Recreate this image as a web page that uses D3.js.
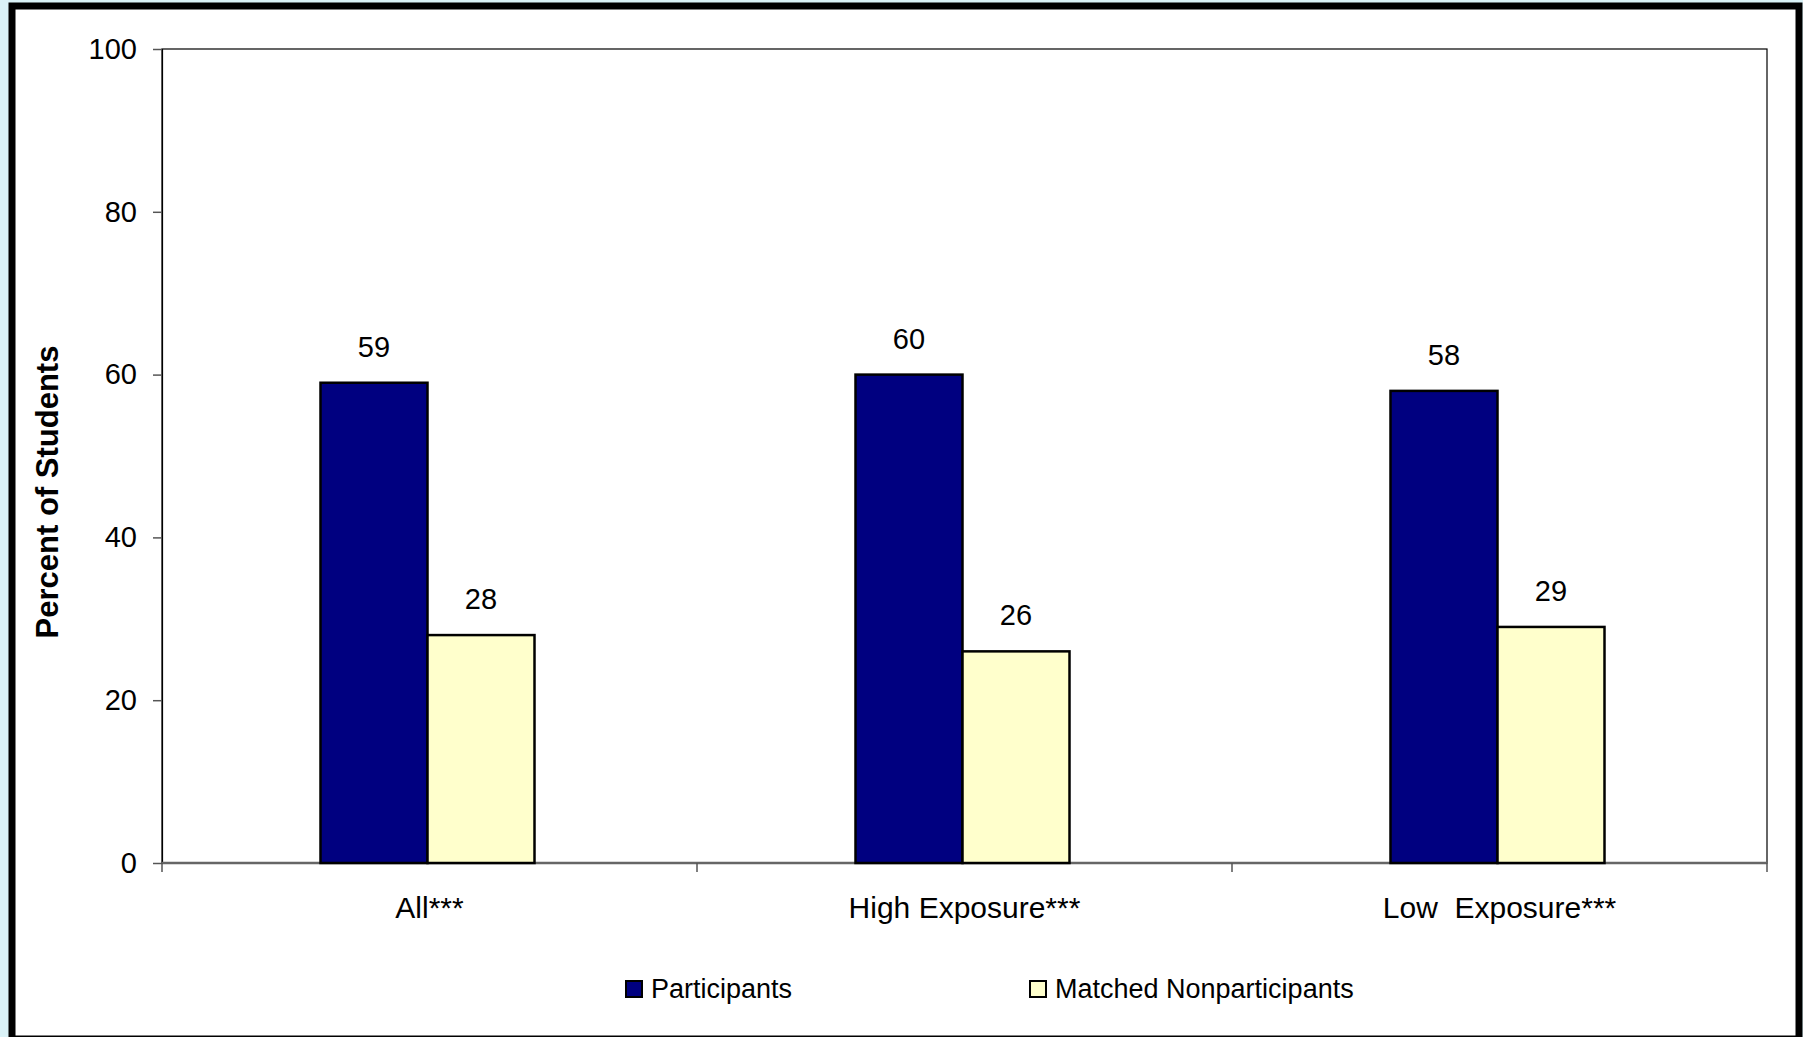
<!DOCTYPE html>
<html>
<head>
<meta charset="utf-8">
<script src="https://cdn.jsdelivr.net/npm/d3@7"></script>
<style>
    body { margin: 0; background: #daf2f7; }
    text { font-family: Arial, "Liberation Sans", sans-serif; fill: #000; white-space: pre; }
</style>
</head>
<body>
<div id="chart"></div>
<script>
// chart data
var categories = ["All***", "High Exposure***", "Low  Exposure***"];
var seriesNames = ["Participants", "Matched Nonparticipants"];
var participants = [59, 60, 58];
var nonparticipants = [28, 26, 29];
var yTicks = [0, 20, 40, 60, 80, 100];

var colors = ["#000080", "#ffffcc"];

var data = categories.map(function (c, i) {
    return { category: c, values: [participants[i], nonparticipants[i]] };
});

// set the dimensions and margins of the graph
var W = 1803, H = 1037;
var margin = { top: 49, right: 36, bottom: 174, left: 162 },
    width = W - margin.left - margin.right,
    height = H - margin.top - margin.bottom;

var root = d3.select("#chart")
    .append("svg")
    .attr("width", W)
    .attr("height", H);

// white frame with thick black border
root.append("rect")
    .attr("x", 12)
    .attr("y", 6)
    .attr("width", 1787)
    .attr("height", 1033)
    .attr("fill", "#fff")
    .attr("stroke", "#000")
    .attr("stroke-width", 7);

var svg = root.append("g")
    .attr("transform", "translate(" + margin.left + "," + margin.top + ")");

// X scales
var x = d3.scaleBand()
    .domain(categories)
    .range([0, width])
    .paddingInner(0.6)
    .paddingOuter(0.3);
var xs = d3.scaleBand()
    .domain(seriesNames)
    .range([0, x.bandwidth()]);

// Y scale
var y = d3.scaleLinear()
    .domain([0, 100])
    .range([height, 0]);

// plot area border
svg.append("rect")
    .attr("width", width)
    .attr("height", height)
    .attr("fill", "none")
    .attr("stroke", "#000")
    .attr("stroke-width", 1.2);

// Y axis
var yAxis = svg.append("g")
    .call(d3.axisLeft(y).tickValues(yTicks).tickSize(9).tickPadding(16));
yAxis.select(".domain").attr("stroke", "#000").attr("stroke-width", 1.2);
yAxis.selectAll(".tick line").attr("stroke", "#555").attr("stroke-width", 1.5);
yAxis.selectAll("text")
    .style("font-size", "29px")
    .style("font-family", "Arial, 'Liberation Sans', sans-serif")
    .attr("fill", "#000");

// X axis: ticks sit on the band boundaries
var step = x.step();
var bounds = d3.range(categories.length + 1).map(function (i) { return i * step; });
var xAxis = svg.append("g")
    .attr("transform", "translate(0," + height + ")");
xAxis.append("line")
    .attr("x1", 0).attr("x2", width)
    .attr("stroke", "#666")
    .attr("stroke-width", 2.5);
xAxis.selectAll("line.tk")
    .data(bounds)
    .enter()
    .append("line")
    .attr("class", "tk")
    .attr("x1", function (d) { return d; })
    .attr("x2", function (d) { return d; })
    .attr("y1", 0)
    .attr("y2", 9)
    .attr("stroke", "#555")
    .attr("stroke-width", 1.5);
xAxis.selectAll("text")
    .data(categories)
    .enter()
    .append("text")
    .attr("x", function (d) { return x(d) + x.bandwidth() / 2; })
    .attr("y", 55)
    .attr("text-anchor", "middle")
    .style("font-size", "30px")
    .text(function (d) { return d; });

// Bars
var groups = svg.selectAll("g.grp")
    .data(data)
    .enter()
    .append("g")
    .attr("class", "grp")
    .attr("transform", function (d) { return "translate(" + (x(d.category) - 2) + ",0)"; });

groups.selectAll("rect")
    .data(function (d) { return d.values.map(function (v, i) { return { key: seriesNames[i], value: v, i: i }; }); })
    .enter()
    .append("rect")
    .attr("x", function (d) { return xs(d.key); })
    .attr("y", function (d) { return y(d.value); })
    .attr("width", xs.bandwidth())
    .attr("height", function (d) { return height - y(d.value); })
    .attr("fill", function (d) { return colors[d.i]; })
    .attr("stroke", "#000")
    .attr("stroke-width", 2.5);

// value labels
groups.selectAll("text")
    .data(function (d) { return d.values.map(function (v, i) { return { key: seriesNames[i], value: v }; }); })
    .enter()
    .append("text")
    .attr("x", function (d) { return xs(d.key) + xs.bandwidth() / 2; })
    .attr("y", function (d) { return y(d.value) - 26; })
    .attr("text-anchor", "middle")
    .style("font-size", "29px")
    .text(function (d) { return d.value; });

// Y axis title
root.append("text")
    .attr("transform", "translate(58,492) rotate(-90)")
    .attr("text-anchor", "middle")
    .style("font-size", "31px")
    .style("font-weight", "bold")
    .text("Percent of Students");

// Legend
var legendX = [626, 1030];
var legend = root.selectAll("g.leg")
    .data(seriesNames)
    .enter()
    .append("g")
    .attr("class", "leg")
    .attr("transform", function (d, i) { return "translate(" + legendX[i] + ",981)"; });
legend.append("rect")
    .attr("width", 16)
    .attr("height", 16)
    .attr("fill", function (d, i) { return colors[i]; })
    .attr("stroke", "#000")
    .attr("stroke-width", 2);
legend.append("text")
    .attr("x", 25)
    .attr("y", 17)
    .style("font-size", "27px")
    .text(function (d) { return d; });
</script>
</body>
</html>
